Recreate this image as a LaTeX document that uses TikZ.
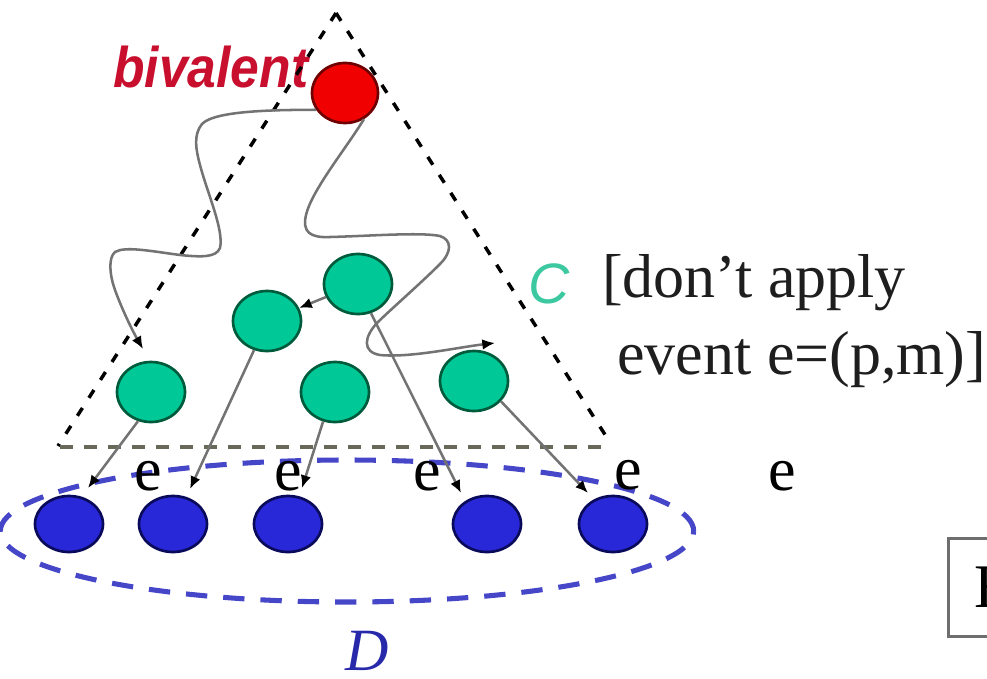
\documentclass[tikz,border=0pt]{standalone}
\usepackage{fontspec}
\setmainfont{Liberation Serif}
\setsansfont{Liberation Sans}
\usetikzlibrary{shapes.geometric,arrows.meta}
\definecolor{redfill}{RGB}{240,0,0}
\definecolor{redline}{RGB}{110,0,0}
\definecolor{redtext}{RGB}{200,16,46}
\definecolor{greenfill}{RGB}{0,200,150}
\definecolor{greenline}{RGB}{0,90,60}
\definecolor{bluefill}{RGB}{40,40,216}
\definecolor{blueline}{RGB}{10,10,90}
\definecolor{dashBlue}{RGB}{70,70,200}
\definecolor{cText}{RGB}{60,200,160}
\definecolor{dText}{RGB}{40,40,170}
\definecolor{connGray}{RGB}{115,115,115}
\definecolor{baseGray}{RGB}{105,105,90}
\definecolor{boxGray}{RGB}{110,110,110}
\definecolor{textDark}{RGB}{30,30,30}
\begin{document}
\begin{tikzpicture}[x=0.75pt,y=-0.75pt,
  circ/.style={ellipse, inner sep=0pt, line width=2pt, minimum width=51pt, minimum height=45pt},
  rednode/.style={circ, fill=redfill, draw=redline, minimum width=49.5pt},
  greennode/.style={circ, fill=greenfill, draw=greenline},
  bluenode/.style={circ, fill=bluefill, draw=blueline, minimum height=42pt},
  conn/.style={draw=connGray, line width=1.9pt, -{Latex[length=9.5pt,width=8pt,color=black]}},
  tri/.style={draw=black, line width=2.6pt, dash pattern=on 7pt off 9pt},
  tribase/.style={draw=baseGray, line width=3.6pt, dash pattern=on 10pt off 8pt},
  dset/.style={draw=dashBlue, line width=3.8pt, dash pattern=on 16pt off 12pt},
  serif/.style={inner sep=0pt, text=textDark, font=\fontsize{46.5}{56}\selectfont},
  elbl/.style={inner sep=0pt, text=black, anchor=base, font=\fontsize{46.5}{56}\selectfont},
]
\useasboundingbox (0,0) rectangle (987,678);
\clip (0,0) rectangle (987,678);

% label bivalent
\node[inner sep=0pt, anchor=base west, text=redtext, xscale=0.9,
      font=\sffamily\bfseries\itshape\fontsize{43}{50}\selectfont] (biv) at (113,87) {bivalent};

% triangle C
\coordinate (apex) at (336,13);
\coordinate (bl) at (58,446);
\coordinate (br) at (611,444);
\coordinate (bl2) at (60,447);
\coordinate (br2) at (604,447);
\draw[tri] (apex) -- (bl);
\draw[tri] (apex) -- (br);
\draw[tribase] (bl2) -- (br2);

% set D
\draw[dset] (347,531) ellipse [x radius=260pt, y radius=53.25pt];

% states
\node[rednode] (R) at (345,93) {};
\node[greennode] (G1) at (358,284) {};
\node[greennode] (G2) at (267,321) {};
\node[greennode] (G3) at (151,392) {};
\node[greennode] (G4) at (335,392) {};
\node[greennode] (G5) at (474,381) {};
\node[bluenode] (B1) at (69,524) {};
\node[bluenode] (B2) at (173,524) {};
\node[bluenode] (B3) at (288,524) {};
\node[bluenode] (B4) at (487,524) {};
\node[bluenode] (B5) at (613,524) {};

% arrow tips
\coordinate (a1) at (88,488);
\coordinate (a2) at (190,489);
\coordinate (a3) at (302,488);
\coordinate (a4) at (461,493);
\coordinate (a5) at (588,493);
\coordinate (a6) at (143,349);
\coordinate (a7) at (495,343);

% wavy executions
\draw[conn] (R.210) .. controls (280,110) and (215,110) .. (202,124)
  .. controls (193,135) and (196,150) .. (200,165)
  .. controls (208,195) and (224,230) .. (220,248)
  .. controls (216,258) and (200,257) .. (180,255)
  .. controls (150,251) and (125,246) .. (115,252)
  .. controls (108,258) and (110,275) .. (114,287)
  .. controls (120,305) and (132,330) .. (a6);
\draw[conn] (R.-54) .. controls (345,150) and (312,190) .. (306,215)
  .. controls (302,232) and (310,238) .. (330,237)
  .. controls (370,236) and (420,232) .. (440,236)
  .. controls (452,240) and (452,252) .. (440,264)
  .. controls (420,284) and (390,310) .. (377,323)
  .. controls (364,337) and (362,352) .. (380,355)
  .. controls (410,358) and (460,347) .. (a7);
\draw[conn] (G1) -- (G2);

% event e steps into D
\draw[conn] (G3.246) -- (a1);
\draw[conn] (G2.246) -- (a2);
\draw[conn] (G4.248) -- (a3);
\draw[conn] (G1.294) -- (a4);
\draw[conn] (G5.323) -- (a5);

% labels
\node[elbl] (e1) at (148,490) {e};
\node[elbl] (e2) at (288,490) {e};
\node[elbl] (e3) at (427,490) {e};
\node[elbl] (e4) at (628,489) {e};
\node[elbl] (e5) at (782,490) {e};

\node[inner sep=0pt, anchor=base west, text=cText,
      font=\sffamily\itshape\fontsize{42.75}{50}\selectfont] (Clbl) at (528,303) {C};
\node[serif, anchor=base west] (t1) at (602,297) {[don’t apply};
\node[serif, anchor=base west] (t2) at (617,374) {event e=(p,m)]};

\node[inner sep=0pt, anchor=base, text=dText,
      font=\itshape\fontsize{45}{54}\selectfont] (Dlbl) at (367,670) {D};

\node[draw=boxGray, line width=2pt, anchor=north west, inner xsep=19.5pt, inner ysep=0pt,
      minimum height=73.5pt, text=black, font=\fontsize{46.5}{56}\selectfont] (Ebox) at (947,537) {E};
\end{tikzpicture}
\end{document}
